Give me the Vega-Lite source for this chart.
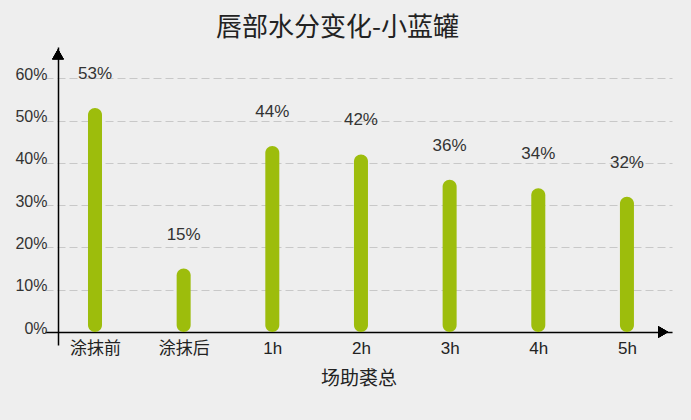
{
  "$schema": "https://vega.github.io/schema/vega-lite/v6.json",
  "width": 627,
  "height": 298,
  "autosize": {"type": "none"},
  "padding": {"left": 45, "top": 47, "right": 19, "bottom": 75},
  "background": "#eeeeee",
  "title": {
    "text": "唇部水分变化-小蓝罐",
    "fontSize": 26,
    "fontWeight": "normal",
    "color": "#222222",
    "font": "Noto Sans CJK SC",
    "anchor": "middle",
    "frame": "group",
    "baseline": "middle",
    "offset": 0,
    "dx": -21,
    "dy": 7
  },
  "config": {
    "view": {"stroke": null},
    "font": "Liberation Sans, Noto Sans CJK SC"
  },
  "data": {
    "values": [
      {"time": "涂抹前", "moisture": 0.53},
      {"time": "涂抹后", "moisture": 0.15},
      {"time": "1h", "moisture": 0.44},
      {"time": "2h", "moisture": 0.42},
      {"time": "3h", "moisture": 0.36},
      {"time": "4h", "moisture": 0.34},
      {"time": "5h", "moisture": 0.32}
    ]
  },
  "layer": [
    {
      "layer": [
        {
          "mark": {"type": "bar", "size": 14, "cornerRadius": 7, "color": "#9dbd0c"},
          "encoding": {
            "x": {
              "field": "time",
              "type": "nominal",
              "sort": null,
              "scale": {"type": "point", "padding": 0.536, "align": 0.526},
              "axis": {
                "title": "场助裘总",
                "titleFontSize": 19,
                "titleFontWeight": "normal",
                "titleColor": "#222222",
                "titleFont": "Noto Sans CJK SC",
                "titlePadding": 13,
                "labelAngle": 0,
                "labelFontSize": 17,
                "labelColor": "#222222",
                "labelPadding": 8,
                "tickSize": 0,
                "offset": -13,
                "domainColor": "#000000",
                "domainWidth": 1.5,
                "grid": false
              }
            },
            "y": {
              "field": "moisture",
              "type": "quantitative",
              "scale": {"domain": [-0.0307, 0.674], "nice": false, "zero": false},
              "axis": {
                "values": [0, 0.1, 0.2, 0.3, 0.4, 0.5, 0.6],
                "format": ".0%",
                "title": null,
                "offset": -13,
                "domainColor": "#000000",
                "domainWidth": 1.5,
                "tickSize": 0,
                "labelPadding": 11,
                "labelFontSize": 16,
                "labelColor": "#333333",
                "labelOffset": -4,
                "grid": true,
                "gridDash": [8, 4],
                "gridColor": "#c8c8c8",
                "gridWidth": 1
              }
            },
            "y2": {"datum": 0}
          }
        },
        {
          "mark": {"type": "text", "dy": -34, "fontSize": 17, "color": "#333333"},
          "encoding": {
            "x": {"field": "time", "type": "nominal", "sort": null},
            "y": {"field": "moisture", "type": "quantitative"},
            "text": {"field": "moisture", "type": "quantitative", "format": ".0%"}
          }
        }
      ]
    },
    {
      "layer": [
        {
          "mark": {"type": "point", "shape": "triangle-up", "filled": true, "color": "#000000", "size": 130, "opacity": 1},
          "encoding": {
            "x": {"datum": 0.0207, "type": "quantitative", "scale": {"domain": [0, 1], "nice": false, "zero": false}, "axis": null},
            "y": {"datum": 0.657, "type": "quantitative"}
          }
        },
        {
          "mark": {"type": "point", "shape": "triangle-right", "filled": true, "color": "#000000", "size": 130, "opacity": 1},
          "encoding": {
            "x": {"datum": 0.986, "type": "quantitative"},
            "y": {"datum": 0, "type": "quantitative"}
          }
        }
      ]
    }
  ],
  "resolve": {"scale": {"x": "independent"}, "axis": {"x": "independent"}}
}
